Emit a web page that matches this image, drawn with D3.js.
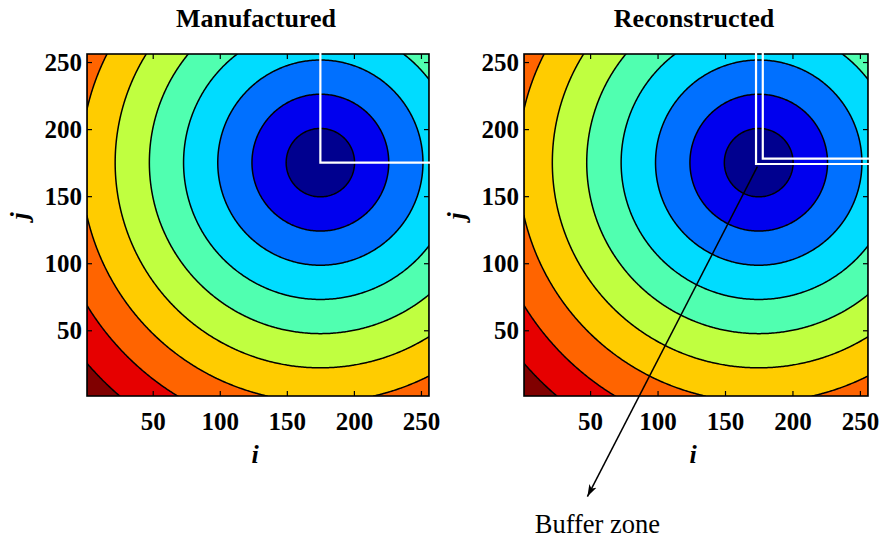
<!DOCTYPE html>
<html lang="en">
<head>
    <meta charset="UTF-8">
    <title>Manufactured / Reconstructed</title>
    <script src="https://cdn.jsdelivr.net/npm/d3@7"></script>
</head>
<body>
<style>
    body {
        margin: 0;
        background-color: white;
    }
    svg {
        display: block;
    }
    text {
        font-family: "Liberation Serif", "Times New Roman", serif;
        fill: black;
    }
    .title {
        font-size: 26px;
        font-weight: bold;
    }
    .axis text {
        font-size: 25px;
        font-weight: bold;
    }
    .axis line {
        stroke: black;
        stroke-width: 1.2;
    }
    .axis path {
        display: none;
    }
    .frame {
        fill: none;
        stroke: black;
        stroke-width: 1.6;
    }
    .iso {
        fill: none;
        stroke: black;
        stroke-width: 1.5;
    }
    .cut {
        fill: none;
        stroke: white;
        stroke-width: 2.2;
    }
    .axlabel {
        font-size: 26px;
        font-weight: bold;
        font-style: italic;
    }
</style>

<svg width="883" height="539"></svg>

<script>
    // chart values
    var panelTitles = ["Manufactured", "Reconstructed"];
    var iTicks = [50, 100, 150, 200, 250];
    var jTicks = [50, 100, 150, 200, 250];
    var gridN = 256;
    var peak = [175, 175];
    var levels = [25.5, 51, 76.5, 102, 127.5, 153, 178.5, 204, 229.5];
    var bandColors = ["#00008f", "#0000ee", "#0070ff", "#00dcff", "#50ffb0",
        "#c0ff40", "#ffcc00", "#ff6400", "#e60000", "#800000"];
    var cutManufactured = [[175, 175]];
    var cutReconstructed = [[173, 174], [178, 178]];
    var bufferArrow = [[174, 172], [48, -74]];
    var bufferLabel = "Buffer zone";

    var svg = d3.select("svg");

    // field on the i,j grid (distance from the peak)
    var values = new Array(gridN * gridN);
    for (var gy = 0; gy < gridN; gy++) {
        for (var gx = 0; gx < gridN; gx++) {
            values[gy * gridN + gx] = Math.hypot(gx + 1 - peak[0], gy + 1 - peak[1]);
        }
    }
    var bands = d3.contours()
            .size([gridN, gridN])
            .thresholds(levels)(values);

    var defs = svg.append("defs");
    defs.append("marker")
            .attr("id", "head")
            .attr("viewBox", "0 0 12 10")
            .attr("refX", 12)
            .attr("refY", 5)
            .attr("markerWidth", 12)
            .attr("markerHeight", 10)
            .attr("markerUnits", "userSpaceOnUse")
            .attr("orient", "auto")
            .append("path")
            .attr("d", "M0,1 L12,5 L0,9 L3,5 z")
            .attr("fill", "black");

    var panels = [
        {x0: 87, w: 342, cuts: cutManufactured},
        {x0: 524, w: 344, cuts: cutReconstructed}
    ];
    var plotTop = 54, plotH = 342;

    panels.forEach(function (p, k) {
        var x = d3.scaleLinear().domain([1, gridN]).range([p.x0, p.x0 + p.w]);
        var y = d3.scaleLinear().domain([1, gridN]).range([plotTop + plotH, plotTop]);
        var g = svg.append("g");

        defs.append("clipPath")
                .attr("id", "clip" + k)
                .append("rect")
                .attr("x", p.x0).attr("y", plotTop)
                .attr("width", p.w).attr("height", plotH);

        var proj = d3.geoTransform({
            point: function (cx, cy) {
                this.stream.point(x(cx + 0.5), y(cy + 0.5));
            }
        });
        var path = d3.geoPath(proj);

        var plot = g.append("g").attr("clip-path", "url(#clip" + k + ")");
        plot.append("rect")
                .attr("x", p.x0).attr("y", plotTop)
                .attr("width", p.w).attr("height", plotH)
                .attr("fill", bandColors[0]);
        plot.selectAll(".band")
                .data(bands)
                .enter()
                .append("path")
                .attr("class", "band")
                .attr("d", path)
                .attr("fill", function (d, i) {
                    return bandColors[i + 1];
                });
        plot.selectAll(".iso")
                .data(bands)
                .enter()
                .append("path")
                .attr("class", "iso")
                .attr("d", path);

        // axes with inward ticks on all four sides
        g.append("g").attr("class", "axis")
                .attr("transform", "translate(0," + (plotTop + plotH) + ")")
                .call(d3.axisBottom(x).tickValues(iTicks).tickSize(-5).tickPadding(16));
        g.append("g").attr("class", "axis")
                .attr("transform", "translate(0," + plotTop + ")")
                .call(d3.axisTop(x).tickValues(iTicks).tickSize(-5).tickFormat(""));
        g.append("g").attr("class", "axis")
                .attr("transform", "translate(" + p.x0 + ",0)")
                .call(d3.axisLeft(y).tickValues(jTicks).tickSize(-5).tickPadding(5));
        g.append("g").attr("class", "axis")
                .attr("transform", "translate(" + (p.x0 + p.w) + ",0)")
                .call(d3.axisRight(y).tickValues(jTicks).tickSize(-5).tickFormat(""));

        g.append("rect")
                .attr("class", "frame")
                .attr("x", p.x0).attr("y", plotTop)
                .attr("width", p.w).attr("height", plotH);

        // white cut lines (quadrant boundaries)
        p.cuts.forEach(function (c) {
            g.append("path")
                    .attr("class", "cut")
                    .attr("d", d3.line()([
                        [x(c[0]), y(gridN) - 1],
                        [x(c[0]), y(c[1])],
                        [x(gridN) + 1, y(c[1])]
                    ]));
        });

        g.append("text")
                .attr("class", "title")
                .attr("x", p.x0 + p.w / 2 - 2)
                .attr("y", 27)
                .attr("text-anchor", "middle")
                .text(panelTitles[k]);

        g.append("text")
                .attr("class", "axlabel")
                .attr("x", p.x0 + p.w / 2 - 3)
                .attr("y", 463)
                .attr("text-anchor", "middle")
                .text("i");

        g.append("text")
                .attr("class", "axlabel")
                .attr("transform", "translate(" + (p.x0 - 59) + "," + 216 + ") rotate(-90)")
                .attr("text-anchor", "middle")
                .text("j");

        if (k === 1) {
            g.append("path")
                    .attr("d", d3.line()(bufferArrow.map(function (d) {
                        return [x(d[0]), y(d[1])];
                    })))
                    .attr("stroke", "black")
                    .attr("stroke-width", 1.5)
                    .attr("fill", "none")
                    .attr("marker-end", "url(#head)");
            g.append("text")
                    .attr("x", x(bufferArrow[1][0]) + 10)
                    .attr("y", 533)
                    .attr("text-anchor", "middle")
                    .style("font-size", "26.5px")
                    .text(bufferLabel);
        }
    });
</script>
</body>
</html>
